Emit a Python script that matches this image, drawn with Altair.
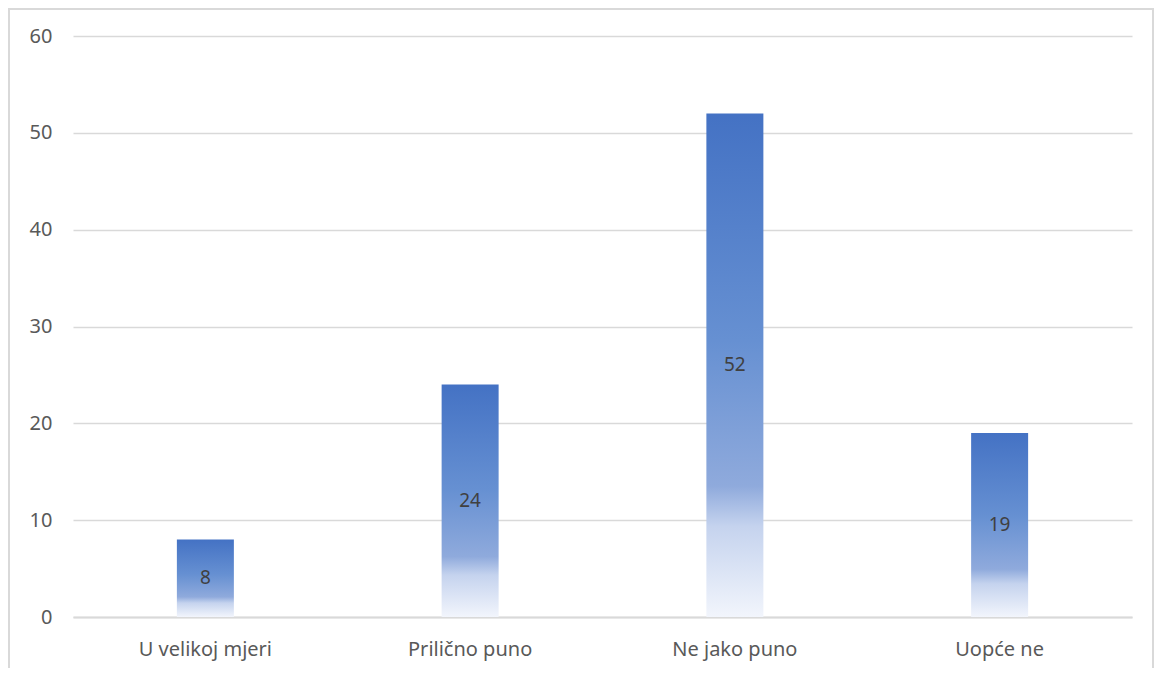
import altair as alt
import pandas as pd

categories = ["U velikoj mjeri", "Prilično puno", "Ne jako puno", "Uopće ne"]
values = [8, 24, 52, 19]
y_ticks = [0, 10, 20, 30, 40, 50, 60]

df = pd.DataFrame({"cat": categories, "val": values})

FONT = "Noto Sans"
W, H = 1059, 581

x = alt.X("cat:N", sort=categories, title=None,
          scale=alt.Scale(paddingInner=0, paddingOuter=0),
          axis=alt.Axis(labelAngle=0, labelFont=FONT, labelFontSize=20, labelColor="#595959",
                        labelPadding=22, ticks=False, grid=False,
                        domainColor="#d9d9d9", domainWidth=2))
y = alt.Y("val:Q", title=None,
          scale=alt.Scale(domain=[0, 60], nice=False),
          axis=alt.Axis(values=y_ticks, labelFont=FONT, labelFontSize=20, labelColor="#595959",
                        labelPadding=21, ticks=False, domain=False, gridColor="#d9d9d9",
                        gridWidth=1.5))

grad = alt.Gradient(
    gradient="linear", x1=0, y1=0, x2=0, y2=1,
    stops=[
        alt.GradientStop(offset=0, color="#4472C4"),
        alt.GradientStop(offset=0.45, color="#6690d2"),
        alt.GradientStop(offset=0.74, color="#8faadc"),
        alt.GradientStop(offset=0.82, color="#c5d3ee"),
        alt.GradientStop(offset=1, color="#f2f5fc"),
    ],
)

bars = alt.Chart(df).mark_bar(size=57, color=grad).encode(x=x, y=y)

labels = alt.Chart(df).transform_calculate(mid="datum.val / 2").mark_text(
    font=FONT, fontSize=19, color="#404040", baseline="middle", align="center"
).encode(x=alt.X("cat:N", sort=categories), y=alt.Y("mid:Q"), text="val:Q")

frame = alt.Chart(pd.DataFrame({"a": [0]})).mark_rect(
    fill=None, stroke="#d9d9d9", strokeWidth=2
).encode(x=alt.value(-64), x2=alt.value(1080), y=alt.value(-27), y2=alt.value(660))

chart = alt.layer(frame, bars, labels).properties(
    width=W, height=H,
    autosize=alt.AutoSizeParams(type="none"),
    padding={"left": 65, "top": 28, "right": 22, "bottom": 51},
    background="white",
).configure_view(stroke=None)

chart.save("out.html", embed_options={"renderer": "svg", "actions": False})
